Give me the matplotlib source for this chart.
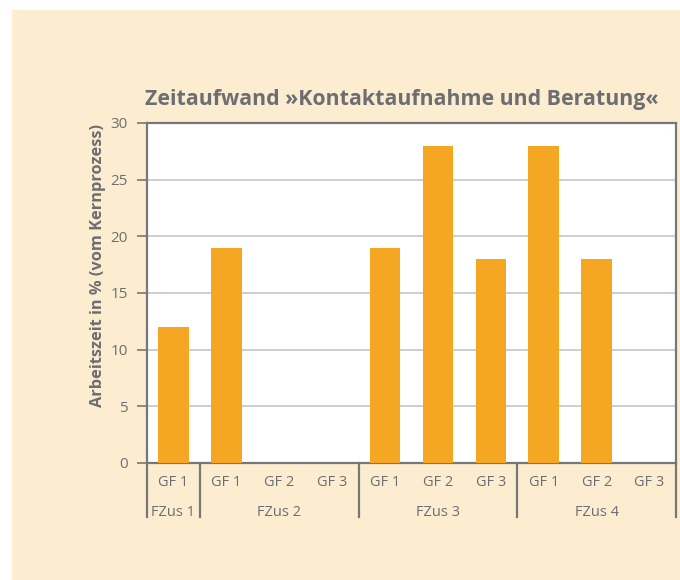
import matplotlib.pyplot as plt
from matplotlib.patches import Rectangle
import matplotlib.transforms as mtransforms

# data
groups = ["FZus 1", "FZus 2", "FZus 3", "FZus 4"]
sub_labels = ["GF 1", "GF 1", "GF 2", "GF 3", "GF 1", "GF 2", "GF 3", "GF 1", "GF 2", "GF 3"]
group_sizes = [1, 3, 3, 3]
values = [12, 19, 0, 0, 19, 28, 18, 28, 18, 0]

text_col = "#6d6e71"
bar_col = "#f5a623"
panel_col = "#fdedd0"

plt.rcParams['font.family'] = ['Open Sans', 'DejaVu Sans']

fig = plt.figure(figsize=(6.8, 5.8), dpi=100)
fig.patch.set_facecolor("white")
fig.patches.append(Rectangle((12 / 680, 0), 1, 1 - 10 / 580, transform=fig.transFigure,
                             facecolor=panel_col, edgecolor="none", zorder=-10))

ax = fig.add_axes([147 / 680, 1 - 463 / 580, 529 / 680, 340 / 580])
ax.set_facecolor("white")

x = list(range(len(values)))
ax.bar(x, values, width=0.58, color=bar_col, zorder=3)

ax.set_xlim(-0.5, len(values) - 0.5)
ax.set_ylim(0, 30)
ax.set_yticks([0, 5, 10, 15, 20, 25, 30])
ax.yaxis.grid(True, color="#c6c6c6", linewidth=1.2, zorder=0)
ax.set_axisbelow(True)

for s in ax.spines.values():
    s.set_color("#777777")
    s.set_linewidth(1.6)

ax.tick_params(axis="y", colors=text_col, labelsize=11, length=7, width=1.2, pad=7)
ax.tick_params(axis="y", color="#777777")
ax.set_xticks(x)
ax.set_xticklabels(sub_labels, color=text_col, fontsize=10.5)
ax.tick_params(axis="x", length=0, pad=9)

# group labels and separators under the axis
trans = mtransforms.blended_transform_factory(ax.transData, ax.transAxes)
start = -0.5
bounds = [start]
for name, n in zip(groups, group_sizes):
    ax.text(start + n / 2, -0.146, name, transform=trans, ha="center", va="center",
            color=text_col, fontsize=10.5)
    start += n
    bounds.append(start)
for b in bounds:
    ax.plot([b, b], [0, -0.16], transform=trans, color="#777777", linewidth=1.6,
            clip_on=False)

ax.text(-0.0926, 0.582, "Arbeitszeit in % (vom Kernprozess)", transform=ax.transAxes,
        rotation=90, ha="center", va="center", color=text_col, fontsize=11.8,
        fontweight="bold")
ax.text(0.482, 1.053, "Zeitaufwand »Kontaktaufnahme und Beratung«", transform=ax.transAxes,
        ha="center", va="baseline", color=text_col, fontsize=15.4, fontweight="bold")

fig.savefig("out.png", dpi=100)
